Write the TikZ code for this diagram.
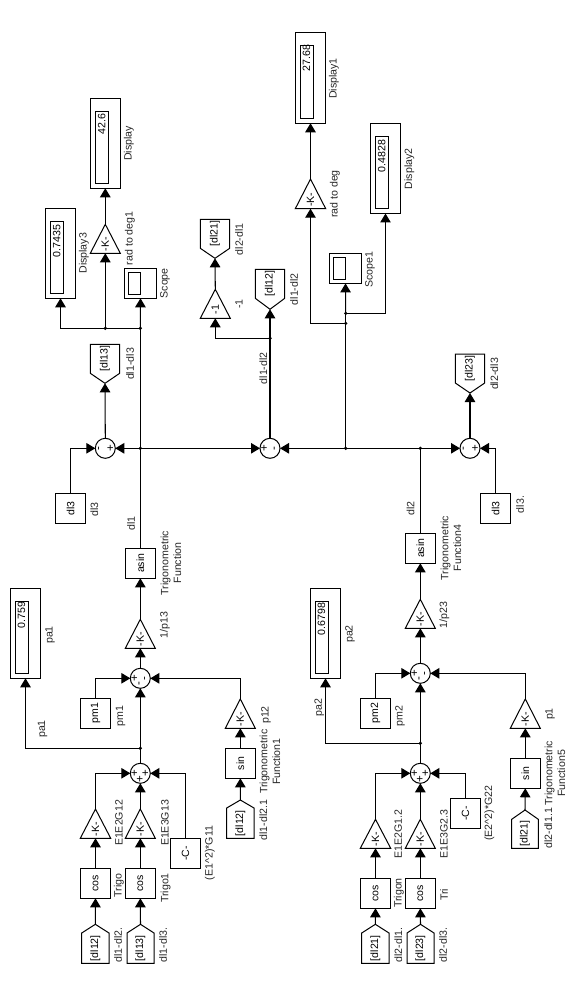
\documentclass[tikz,border=0pt]{standalone}
\usepackage{fontspec}
\usepackage{graphicx}
\setmainfont{Liberation Sans}
\usetikzlibrary{arrows.meta}
\tikzset{
  wire/.style={line width=1.05pt,draw=black,-{Triangle[width=10.5pt,length=9pt]}},
  plainwire/.style={line width=1.05pt,draw=black},
  outline/.style={line width=1pt,draw=black},
  blockbox/.style={draw=black,line width=1pt,inner sep=0pt,outer sep=0pt,font=\fontsize{10.5}{12}\selectfont},
  ghostbox/.style={inner sep=0pt,outer sep=0pt,font=\fontsize{10.5}{12}\selectfont},
  sumcircle/.style={circle,draw=black,line width=1pt,minimum size=20pt,inner sep=0pt,outer sep=0pt},
  sign/.style={inner sep=0pt,font=\fontsize{11.5}{11.5}\selectfont,rotate=90},
  lab/.style={rotate=90,inner sep=0pt,align=center,font=\fontsize{10.6}{12.6}\selectfont,text=black!85},
  val/.style={rotate=90,inner sep=0pt,font=\fontsize{10.6}{12}\selectfont},
  dot/.style={circle,fill=black,inner sep=0pt,minimum size=3.6pt}
}
% rectangular block: name, x1, y1, x2, y2, text
\newcommand\rblk[6]{\pgfmathsetmacro\bw{#4-#2}\pgfmathsetmacro\bh{#5-#3}%
  \node[blockbox,minimum width=\bw pt,minimum height=\bh pt] (#1) at ({(#2+#4)/2},{(#3+#5)/2}) {\rotatebox{90}{#6}};}
% gain triangle, apex up: name, x1, x2, apex y, base y, text
\newcommand\gainblk[6]{\pgfmathsetmacro\bw{#3-#2}\pgfmathsetmacro\bh{#5-#4}%
  \node[ghostbox,minimum width=\bw pt,minimum height=\bh pt] (#1) at ({(#2+#3)/2},{(#4+#5)/2}) {};
  \draw[outline,line join=miter] (#1.south west) -- (#1.north) -- (#1.south east) -- cycle;
  \node[val] (#1t) at ({(#2+#3)/2},{#5-9}) {#6};}
% from tag, apex up: name, x1, x2, apex y, shoulder y, bottom y, text
\newcommand\fromtag[7]{\pgfmathsetmacro\bw{#3-#2}\pgfmathsetmacro\bh{#6-#4}%
  \node[ghostbox,minimum width=\bw pt,minimum height=\bh pt] (#1) at ({(#2+#3)/2},{(#4+#6)/2}) {};
  \draw[outline] (#1.north) -- (#2,#5) -- (#1.south west) -- (#1.south east) -- (#3,#5) -- cycle;
  \node[val] (#1t) at ({(#2+#3)/2},{(#5+#6)/2}) {#7};}
% goto tag, apex down: name, x1, x2, top y, shoulder y, apex y, text
\newcommand\gototag[7]{\pgfmathsetmacro\bw{#3-#2}\pgfmathsetmacro\bh{#6-#4}%
  \node[ghostbox,minimum width=\bw pt,minimum height=\bh pt] (#1) at ({(#2+#3)/2},{(#4+#6)/2}) {};
  \draw[outline] (#1.south) -- (#2,#5) -- (#1.north west) -- (#1.north east) -- (#3,#5) -- cycle;
  \node[val] (#1t) at ({(#2+#3)/2},{(#4+#5)/2}) {#7};}
% display: name, x1, y1, x2, y2, inner offset of top
\newcommand\dispblk[6]{%
  \rblk{#1}{#2}{#3}{#4}{#5}{}
  \pgfmathsetmacro\ibh{#5-#3-#6-5}%
  \node[blockbox,minimum width=13pt,minimum height=\ibh pt] (#1i) at ({#2+5+6.5},{#3+#6+\ibh/2}) {};}
% summing junction: name, x, y, left, bottom, right
\newcommand\sumblk[6]{\node[sumcircle] (#1) at (#2,#3) {};
  \node[sign] (#1l) at ({#2-5.5},#3) {#4};
  \node[sign] (#1b) at (#2,{#3+5.5}) {#5};
  \node[sign] (#1r) at ({#2+5.5},#3) {#6};}
\begin{document}
\begin{tikzpicture}[x=1pt,y=-1pt]
\useasboundingbox (0,0) rectangle (580,1000);

% ---------- lower left ----------
\dispblk{pa1}{10.3}{588.3}{40.7}{678.3}{13}
\node[val] (pa1v) at (21.5,615) {0.759};
\node[lab] (pa1n) at (50,635) {pa1};
\sumblk{s1u}{140.3}{678.3}{+}{-}{-}
\sumblk{s1l}{140.3}{773.3}{+}{+}{+}
\gainblk{g13}{125.3}{155.3}{619.3}{648.3}{-K-}
\node[lab] (g13n) at (165,625) {1/p13};
\rblk{as1}{125.3}{548.3}{155.3}{578.3}{asin}
\node[lab] (as1n) at (171,563) {Trigonometric\\Function};
\rblk{pm1}{80.3}{698.3}{110.7}{728.3}{pm1}
\node[lab] (pm1n) at (120.7,716) {pm1};
\gainblk{g12}{225.3}{255.3}{699}{728.3}{-K-}
\node[lab] (g12n) at (266,715) {p12};
\rblk{sn1}{225.3}{748.3}{255.3}{778.3}{sin}
\node[lab] (sn1n) at (270,761.7) {Trigonometric\\Function1};
\fromtag{t1s}{226.7}{254}{800}{808}{838.3}{[dl12]}
\node[lab] (t1sn) at (263.3,820) {dl1-dl2.1};
\gainblk{ge12}{80.3}{110.7}{809}{838.3}{-K-}
\node[lab] (ge12n) at (119,823) {E1E2G12};
\gainblk{ge13}{125.3}{155.3}{809}{838.3}{-K-}
\node[lab] (ge13n) at (165,823) {E1E3G13};
\rblk{c11}{170.3}{838.3}{200.7}{868.3}{-C-}
\node[lab] (c11n) at (210,853) {(E1\^{}2)*G11};
\rblk{cs1}{80.3}{868.3}{110.7}{898.3}{cos}
\node[lab] (cs1n) at (119,885.7) {Trigo};
\rblk{cs2}{125.3}{868.3}{155.3}{898.3}{cos}
\node[lab] (cs2n) at (165.7,888) {Trigo1};
\fromtag{t12}{81.7}{109}{924.3}{933}{963.3}{[dl12]}
\node[lab] (t12n) at (118,945) {dl1-dl2.};
\fromtag{t13}{127}{154}{924.3}{933}{963.3}{[dl13]}
\node[lab] (t13n) at (163,945) {dl1-dl3.};

\node[dot] (j1) at (140.3,748.3) {};
\node[lab] (pa1w) at (42.7,729) {pa1};
\draw[wire] (t12.north) -- (cs1.south);
\draw[wire] (t13.north) -- (cs2.south);
\draw[wire] (cs1.north) -- (ge12.south);
\draw[wire] (cs2.north) -- (ge13.south);
\draw[wire] (ge12.north) |- (s1l.west);
\draw[wire] (ge13.north) -- (s1l.south);
\draw[wire] (c11.north) |- (s1l.east);
\draw[plainwire] (s1l.north) -- (j1.center);
\draw[wire] (j1.center) -- (s1u.south);
\draw[wire] (j1.center) -| (pa1.south);
\draw[wire] (pm1.north) |- (s1u.west);
\draw[wire] (g12.north) |- (s1u.east);
\draw[wire] (sn1.north) -- (g12.south);
\draw[wire] (t1s.north) -- (sn1.south);
\draw[wire] (s1u.north) -- (g13.south);
\draw[wire] (g13.north) -- (as1.south);

% ---------- lower right ----------
\dispblk{pa2}{310.3}{588.3}{340.7}{678.3}{13}
\node[val] (pa2v) at (321.5,619.3) {0.6798};
\node[lab] (pa2n) at (350,634) {pa2};
\sumblk{s2u}{420.3}{673.3}{+}{-}{-}
\sumblk{s2l}{420.3}{773.3}{+}{+}{+}
\gainblk{g23}{405.3}{435.3}{599.3}{628.3}{-K-}
\node[lab] (g23n) at (444.3,615) {1/p23};
\rblk{as2}{405.3}{533.3}{435.3}{563.3}{asin}
\node[lab] (as2n) at (451,548) {Trigonometric\\Function4};
\rblk{pm2}{360.3}{698.3}{390.7}{728.3}{pm2}
\node[lab] (pm2n) at (400,716) {pm2};
\gainblk{gp1}{510.3}{540.3}{699}{728.3}{-K-}
\node[lab] (gp1n) at (550,714) {p1};
\rblk{sn2}{510.3}{758.3}{540.3}{788.3}{sin}
\node[lab] (sn2n) at (555,773.3) {Trigonometric\\Function5};
\fromtag{t2s}{511.7}{538.3}{810}{819.3}{848.3}{[dl21]}
\node[lab] (t2sn) at (548.3,828.3) {dl2-dl1.1};
\gainblk{ge21}{360.3}{390.7}{819.3}{848.3}{-K-}
\node[lab] (ge21n) at (398.3,834) {E1E2G1.2};
\gainblk{ge23}{405.3}{435.3}{819.3}{848.3}{-K-}
\node[lab] (ge23n) at (444,834) {E1E3G2.3};
\rblk{c22}{450.3}{798.3}{480.7}{828.3}{-C-}
\node[lab] (c22n) at (489.3,813.3) {(E2\^{}2)*G22};
\rblk{cs3}{360.3}{878.3}{390.7}{908.3}{cos}
\node[lab] (cs3n) at (399,893) {Trigon};
\rblk{cs4}{405.3}{878.3}{435.3}{908.3}{cos}
\node[lab] (cs4n) at (444,895) {Tri};
\fromtag{t21}{361.7}{389}{924.3}{933}{963.3}{[dl21]}
\node[lab] (t21n) at (398.3,945) {dl2-dl1.};
\fromtag{t23}{407}{434}{924.3}{933}{963.3}{[dl23]}
\node[lab] (t23n) at (443,945) {dl2-dl3.};

\node[dot] (j2) at (420.3,743.3) {};
\node[lab] (pa2w) at (319.3,707.7) {pa2};
\draw[wire] (t21.north) -- (cs3.south);
\draw[wire] (t23.north) -- (cs4.south);
\draw[wire] (cs3.north) -- (ge21.south);
\draw[wire] (cs4.north) -- (ge23.south);
\draw[wire] (ge21.north) |- (s2l.west);
\draw[wire] (ge23.north) -- (s2l.south);
\draw[wire] (c22.north) |- (s2l.east);
\draw[plainwire] (s2l.north) -- (j2.center);
\draw[wire] (j2.center) -- (s2u.south);
\draw[wire] (j2.center) -| (pa2.south);
\draw[wire] (pm2.north) |- (s2u.west);
\draw[wire] (gp1.north) |- (s2u.east);
\draw[wire] (sn2.north) -- (gp1.south);
\draw[wire] (t2s.north) -- (sn2.south);
\draw[wire] (s2u.north) -- (g23.south);
\draw[wire] (g23.north) -- (as2.south);

% ---------- central bus ----------
\sumblk{sa}{105.3}{448.3}{-}{}{+}
\sumblk{sb}{270}{448.3}{+}{}{-}
\sumblk{sc}{470}{448.3}{-}{}{+}
\node[dot] (ja) at (140.3,448.3) {};
\node[dot] (jb) at (345.7,448.3) {};
\node[dot] (jc) at (420.3,448.3) {};
\node[lab] (dl1n) at (131,523.3) {dl1};
\node[lab] (dl2n) at (410.7,508.3) {dl2};
\rblk{d3a}{55.3}{493.3}{85.7}{523.3}{dl3}
\node[lab] (d3an) at (94.3,509.3) {dl3};
\rblk{d3b}{480.3}{493.5}{510.7}{523.4}{dl3}
\node[lab] (d3bn) at (520,504.5) {dl3.};
\draw[plainwire] (as1.north) -- (ja.center);
\draw[wire] (ja.center) -- (sa.east);
\draw[wire] (ja.center) -- (sb.west);
\draw[plainwire] (as2.north) -- (jc.center);
\draw[plainwire] (jc.center) -- (jb.center);
\draw[wire] (jb.center) -- (sb.east);
\draw[wire] (jc.center) -- (sc.west);
\draw[wire] (d3a.north) |- (sa.west);
\draw[wire] (d3b.north) |- (sc.east);

% ---------- upper left ----------
\gototag{g13t}{90.3}{119.7}{344.3}{373.3}{383.3}{[dl13]}
\node[lab] (g13tn) at (130,364) {dl1-dl3};
\draw[wire] (sa.north) -- (g13t.south);
\rblk{sc0}{124.3}{268.3}{156.7}{298.3}{}
\node[blockbox,minimum width=12.4pt,minimum height=22pt] (sc0i) at (134.5,283.3) {};
\node[lab] (sc0n) at (165,283.3) {Scope};
\dispblk{dp3}{45.3}{208.3}{75.7}{298.3}{13}
\node[val] (dp3v) at (56.7,241) {0.7435};
\node[lab] (dp3n) at (84,253.3) {Display3};
\dispblk{dp0}{90.3}{98.3}{120.3}{188.3}{13}
\node[val] (dp0v) at (101.7,124) {42.6};
\node[lab] (dp0n) at (129,143.3) {Display};
\gainblk{rd1}{90.3}{120.3}{224.3}{253.3}{-K-}
\node[lab] (rd1n) at (130,238.3) {rad to deg1};
\node[dot] (j3) at (140.3,328.3) {};
\node[dot] (j4) at (105.3,328.3) {};
\draw[plainwire] (ja.center) -- (j3.center);
\draw[wire] (j3.center) -- (sc0.south);
\draw[plainwire] (j3.center) -- (j4.center);
\draw[wire] (j4.center) -| (dp3.south);
\draw[wire] (j4.center) -- (rd1.south);
\draw[wire] (rd1.north) -- (dp0.south);

% ---------- upper middle ----------
\gototag{g12t}{255.3}{284.7}{269.3}{298.3}{309.3}{[dl12]}
\node[lab] (g12tn) at (294,289.3) {dl1-dl2};
\gainblk{gm1}{200.3}{230.3}{289.3}{318.3}{-1}
\node[lab] (gm1n) at (239,304) {-1};
\gototag{g21t}{200.3}{229.7}{219.3}{248.3}{258.3}{[dl21]}
\node[lab] (g21tn) at (239,239.3) {dl2-dl1};
\node[dot] (j5) at (270,338.3) {};
\node[lab] (j5n) at (263.3,368.3) {dl1-dl2};
\draw[plainwire] (sb.north) -- (j5.center);
\draw[wire] (j5.center) -- (g12t.south);
\draw[wire] (j5.center) -| (gm1.south);
\draw[wire] (gm1.north) -- (g21t.south);

% ---------- upper right ----------
\rblk{sc1}{329.3}{253.5}{361.7}{283.4}{}
\node[blockbox,minimum width=12.4pt,minimum height=21.4pt] (sc1i) at (339.5,268.3) {};
\node[lab] (sc1n) at (370,269.7) {Scope1};
\dispblk{dp1}{295.3}{33}{325.7}{123.3}{13}
\node[val] (dp1v) at (306.5,58) {27.68};
\node[lab] (dp1n) at (334,78.5) {Display1};
\dispblk{dp2}{370.3}{123.3}{400.7}{213.5}{13}
\node[val] (dp2v) at (381.7,156) {0.4828};
\node[lab] (dp2n) at (409.3,168.8) {Display2};
\gainblk{rd0}{295.3}{325.7}{179}{208.7}{-K-}
\node[lab] (rd0n) at (335,194) {rad to deg};
\node[dot] (j6) at (345.7,313.4) {};
\node[dot] (j7) at (345.7,323.4) {};
\draw[plainwire] (jb.center) -- (j7.center);
\draw[plainwire] (j7.center) -- (j6.center);
\draw[wire] (j6.center) -- (sc1.south);
\draw[wire] (j6.center) -| (dp2.south);
\draw[wire] (j7.center) -| (rd0.south);
\draw[wire] (rd0.north) -- (dp1.south);
\gototag{g23t}{455.3}{484.7}{354}{383}{393}{[dl23]}
\node[lab] (g23tn) at (494.3,374) {dl2-dl3};
\draw[wire] (sc.north) -- (g23t.south);
\end{tikzpicture}
\end{document}
